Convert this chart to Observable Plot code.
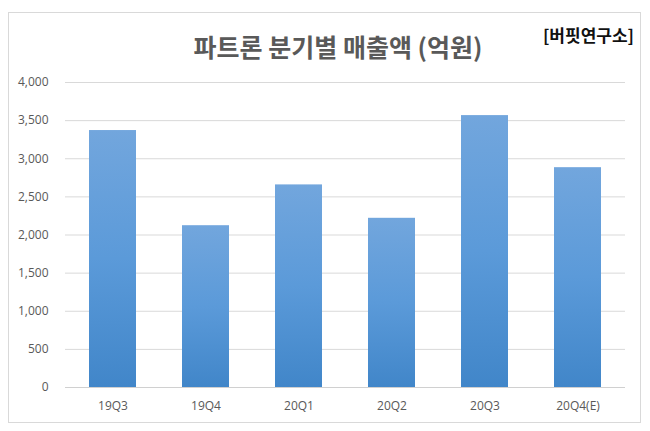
<!DOCTYPE html>
<html>
<head>
<meta charset="utf-8">
<script src="https://cdn.jsdelivr.net/npm/d3@7"></script>
<script src="https://cdn.jsdelivr.net/npm/@observablehq/plot@0.6"></script>
<style>
  html, body { margin: 0; padding: 0; background: #fff; }
  #wrap { position: relative; width: 650px; height: 431px; overflow: hidden; }
  #frame { position: absolute; left: 8px; top: 12px; width: 633px; height: 411px; border: 1px solid #d9d9d9; box-sizing: border-box; }
  #title { position: absolute; left: 13px; width: 650px; top: 30px; text-align: center; font-family: "Noto Sans CJK KR", sans-serif; font-weight: bold; font-size: 25px; color: #595959; line-height: 32px; }
  #source { position: absolute; right: 16px; top: 24px; font-family: "Noto Sans CJK KR", sans-serif; font-weight: bold; font-size: 17px; color: #111; line-height: 22px; }
  #chart { position: absolute; left: 0; top: 0; }
  #chart svg { overflow: visible; }
</style>
</head>
<body>
<div id="wrap">
  <div id="frame"></div>
  <div id="chart"></div>
  <div id="title">파트론 분기별 매출액 (억원)</div>
  <div id="source">[버핏연구소]</div>
</div>
<script>
const quarters = ["19Q3", "19Q4", "20Q1", "20Q2", "20Q3", "20Q4(E)"];
const sales = [3370, 2122, 2657, 2219, 3566, 2883];
const yTicks = [0, 500, 1000, 1500, 2000, 2500, 3000, 3500, 4000];

const data = quarters.map((q, i) => ({quarter: q, value: sales[i]}));

const chart = Plot.plot({
  width: 650,
  height: 431,
  marginTop: 82,
  marginBottom: 44,
  marginLeft: 65,
  marginRight: 25,
  style: {fontFamily: "'Open Sans', 'Noto Sans', sans-serif", fontSize: "12px", color: "#595959", background: "transparent"},
  x: {domain: quarters, paddingInner: 0.5, paddingOuter: 0.25, label: null},
  y: {domain: [0, 4000], ticks: yTicks, label: null},
  marks: [
    Plot.gridY(yTicks.slice(1), {stroke: "#d9d9d9", strokeOpacity: 1, strokeWidth: 1}),
    Plot.barY(data, {x: "quarter", y: "value", fill: "url(#barGrad)", style: "filter: drop-shadow(1px 1px 1.5px rgba(0,0,0,0.3))"}),
    Plot.ruleY([0], {stroke: "#d0d0d0", strokeWidth: 1}),
    Plot.axisY({ticks: yTicks, tickFormat: d3.format(","), tickSize: 0, tickPadding: 17, label: null, fill: "#595959"}),
    Plot.axisX({tickSize: 0, tickPadding: 14, label: null, fill: "#595959"})
  ]
});

const ns = "http://www.w3.org/2000/svg";
const defs = document.createElementNS(ns, "defs");
defs.innerHTML = `<linearGradient id="barGrad" x1="0" y1="0" x2="0" y2="1">
  <stop offset="0" stop-color="#72a6dd"/>
  <stop offset="0.5" stop-color="#5b9ad9"/>
  <stop offset="1" stop-color="#4186c9"/>
</linearGradient>`;
chart.insertBefore(defs, chart.firstChild);
document.getElementById("chart").appendChild(chart);
</script>
</body>
</html>
